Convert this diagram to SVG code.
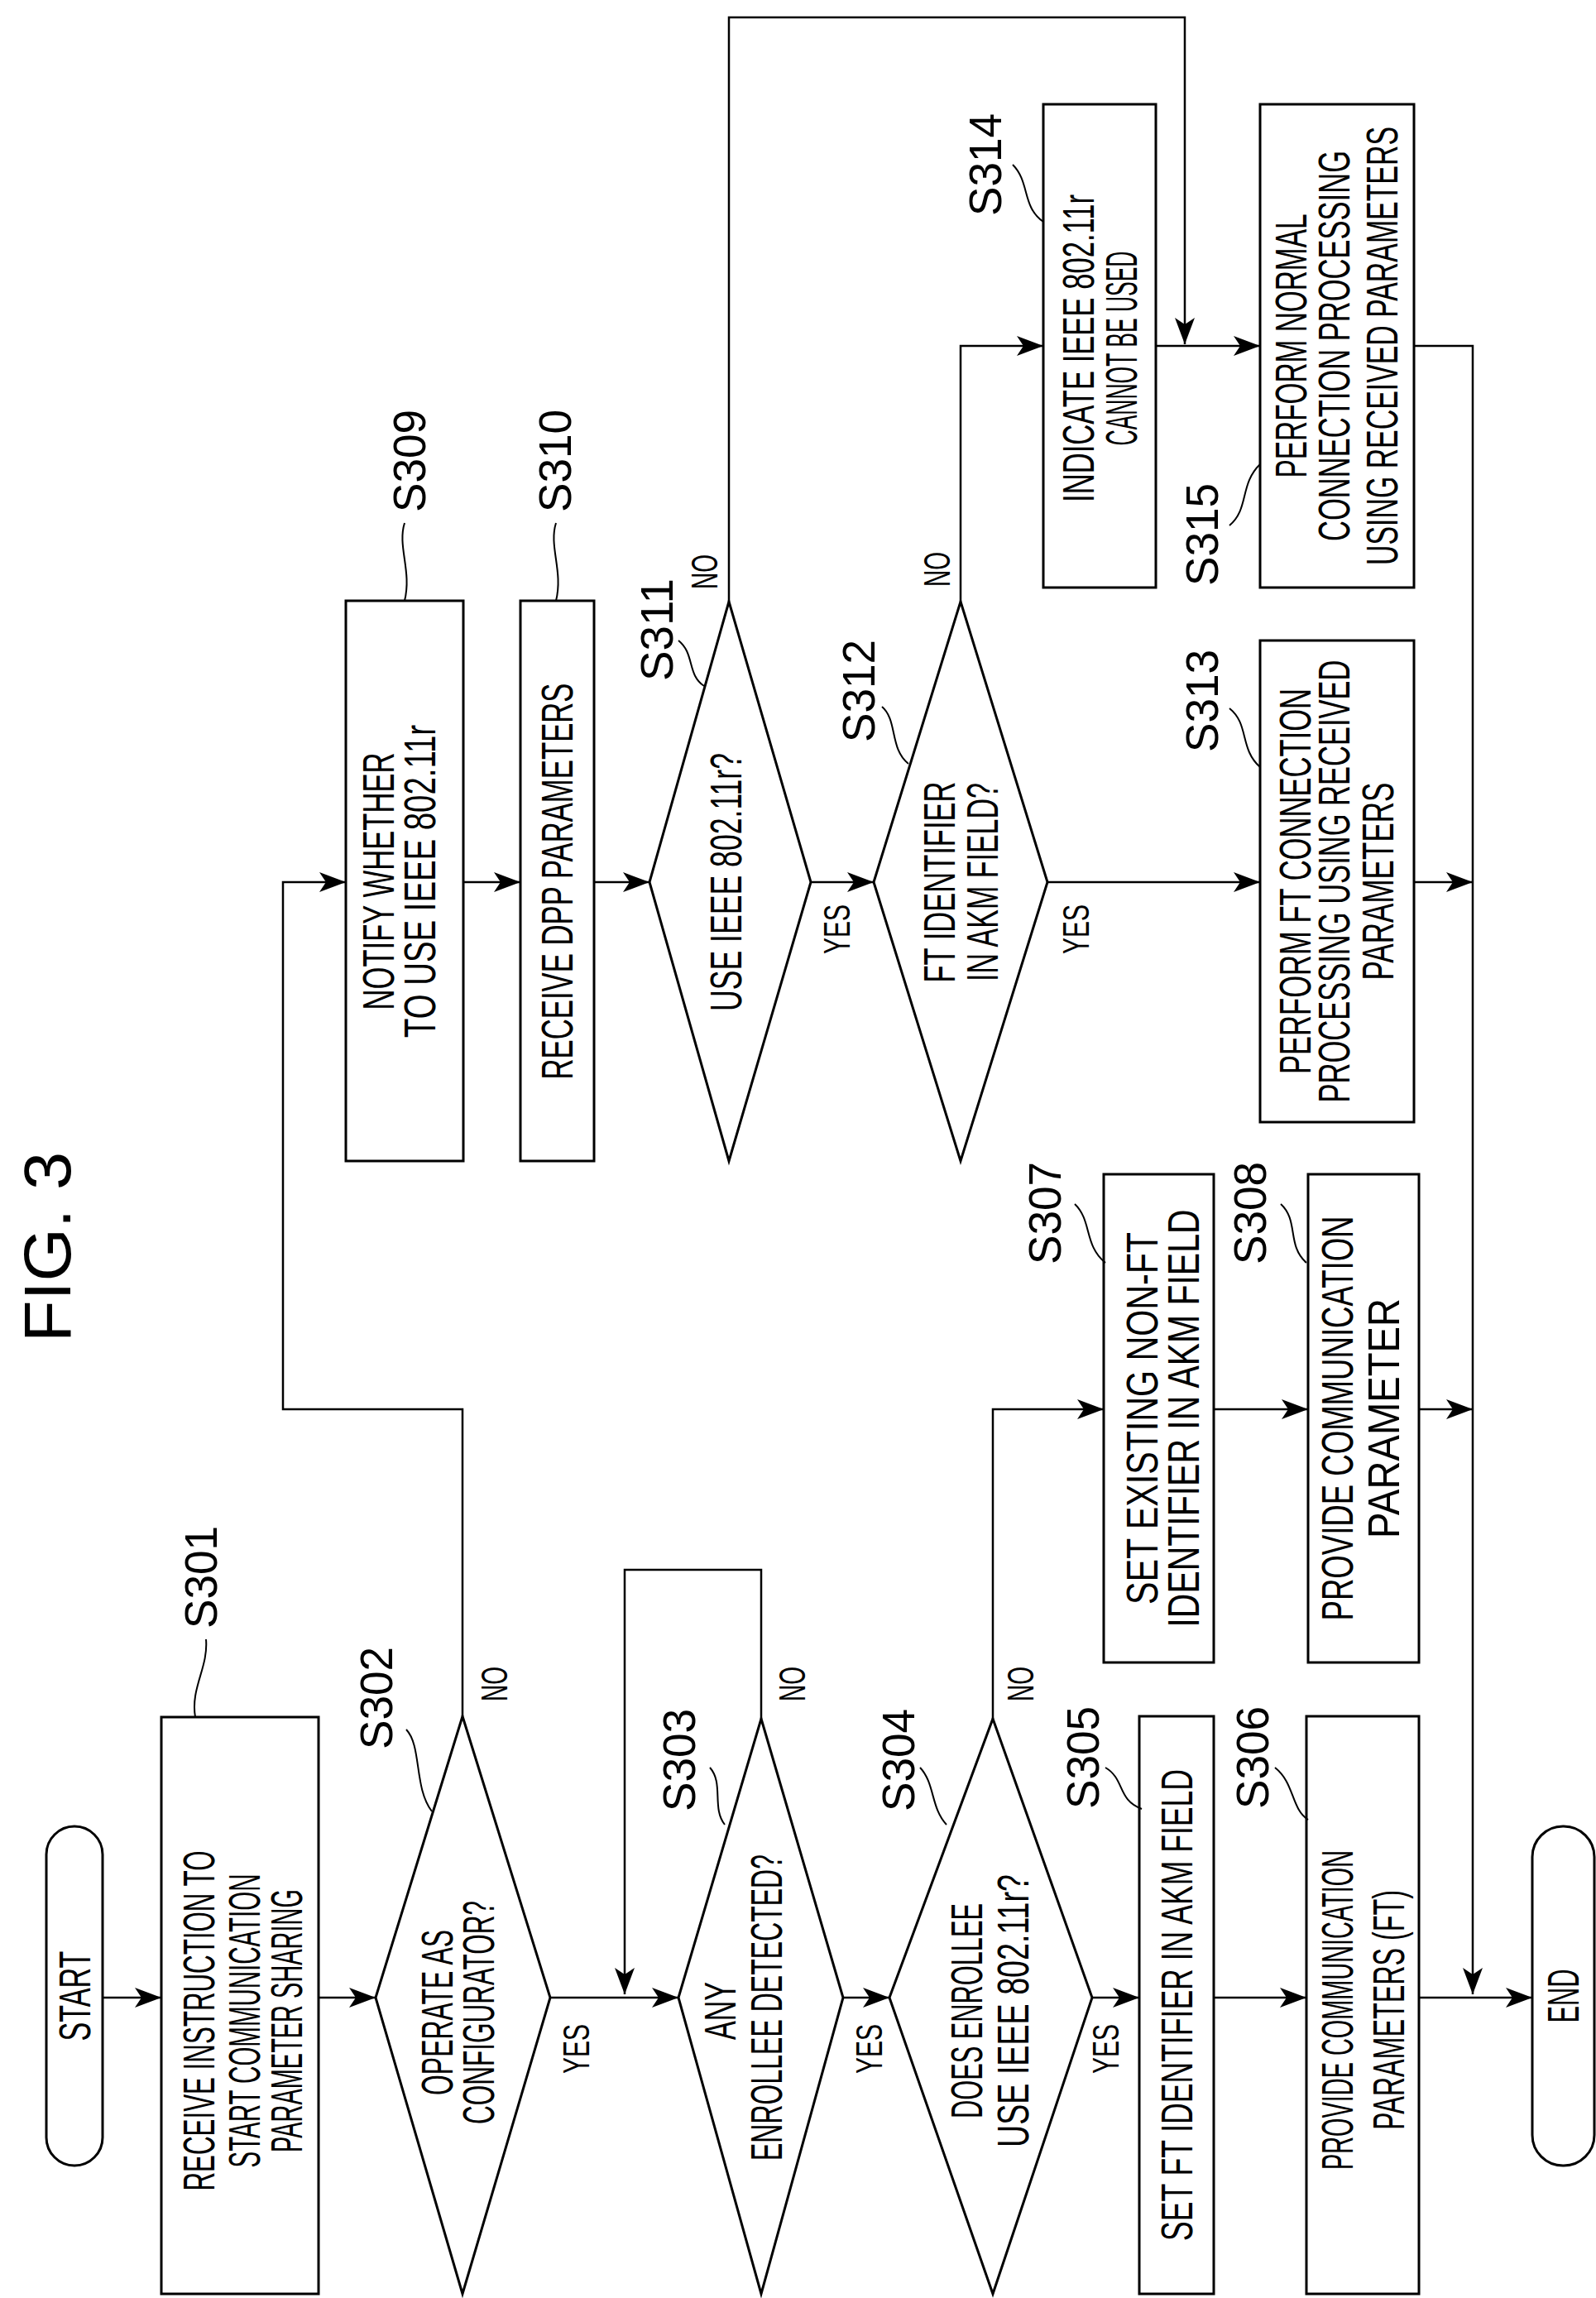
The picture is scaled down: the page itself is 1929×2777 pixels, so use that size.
<svg xmlns="http://www.w3.org/2000/svg" width="1929" height="2777" viewBox="0 0 1929 2777">
<style>
text{font-family:"Liberation Sans",Arial,sans-serif;fill:#000;text-anchor:middle}
.b{font-size:53px}
.l{font-size:56px}
.y{font-size:44px}
.s{fill:none;stroke:#000;stroke-width:3}
.c{fill:none;stroke:#000;stroke-width:2.5}
.w{fill:none;stroke:#000;stroke-width:2}
</style>
<defs>
<marker id="a" markerWidth="34" markerHeight="24" refX="32" refY="12" orient="auto" markerUnits="userSpaceOnUse">
<path d="M0,0 L32,12 L0,24 L8,12 Z" fill="#000"/>
</marker>
</defs>
<rect width="1929" height="2777" fill="#fff"/>
<text transform="translate(85,1507) rotate(-90)" style="font-size:80px" textLength="230" lengthAdjust="spacingAndGlyphs">FIG. 3</text>

<g id="start"><rect class="s" x="56" y="2207" width="68" height="410" rx="34"/>
<text class="b" transform="translate(109,2412) rotate(-90)" textLength="109" lengthAdjust="spacingAndGlyphs">START</text></g>

<g id="S301"><rect class="s" x="195" y="2075" width="190" height="697"/>
<text class="b" transform="translate(259,2442) rotate(-90)" textLength="411" lengthAdjust="spacingAndGlyphs">RECEIVE INSTRUCTION TO</text>
<text class="b" transform="translate(314,2442) rotate(-90)" textLength="355" lengthAdjust="spacingAndGlyphs">START COMMUNICATION</text>
<text class="b" transform="translate(365,2442) rotate(-90)" textLength="318" lengthAdjust="spacingAndGlyphs">PARAMETER SHARING</text>
<text class="l" transform="translate(262,1906) rotate(-90)" textLength="124" lengthAdjust="spacingAndGlyphs">S301</text>
<path class="w" d="M236,2075 C230,2040 252,2015 249,1981"/></g>

<g id="S302"><polygon class="s" points="559,2074 665,2414 559,2772 454,2414"/>
<text class="b" transform="translate(547,2432) rotate(-90)" textLength="200" lengthAdjust="spacingAndGlyphs">OPERATE AS</text>
<text class="b" transform="translate(597,2432) rotate(-90)" textLength="270" lengthAdjust="spacingAndGlyphs">CONFIGURATOR?</text>
<text class="l" transform="translate(474,2052) rotate(-90)" textLength="124" lengthAdjust="spacingAndGlyphs">S302</text>
<path class="w" d="M491,2090 C510,2110 500,2160 522,2189"/>
<text class="y" transform="translate(613,2035) rotate(-90)" textLength="42" lengthAdjust="spacingAndGlyphs">NO</text>
<text class="y" transform="translate(712,2476) rotate(-90)" textLength="60" lengthAdjust="spacingAndGlyphs">YES</text></g>

<g id="S303"><polygon class="s" points="920,2077 1019,2414 920,2772 820,2414"/>
<text class="b" transform="translate(889,2430) rotate(-90)" textLength="70" lengthAdjust="spacingAndGlyphs">ANY</text>
<text class="b" transform="translate(945,2426) rotate(-90)" textLength="370" lengthAdjust="spacingAndGlyphs">ENROLLEE DETECTED?</text>
<text class="l" transform="translate(840,2127) rotate(-90)" textLength="124" lengthAdjust="spacingAndGlyphs">S303</text>
<path class="w" d="M858,2136 C875,2155 860,2185 876,2205"/>
<text class="y" transform="translate(973,2035) rotate(-90)" textLength="42" lengthAdjust="spacingAndGlyphs">NO</text>
<text class="y" transform="translate(1066,2476) rotate(-90)" textLength="60" lengthAdjust="spacingAndGlyphs">YES</text></g>

<g id="S304"><polygon class="s" points="1200,2077 1320,2414 1200,2772 1075,2414"/>
<text class="b" transform="translate(1187,2430) rotate(-90)" textLength="260" lengthAdjust="spacingAndGlyphs">DOES ENROLLEE</text>
<text class="b" transform="translate(1243,2430) rotate(-90)" textLength="330" lengthAdjust="spacingAndGlyphs">USE IEEE 802.11r?</text>
<text class="l" transform="translate(1105,2127) rotate(-90)" textLength="124" lengthAdjust="spacingAndGlyphs">S304</text>
<path class="w" d="M1112,2136 C1130,2155 1125,2185 1144,2205"/>
<text class="y" transform="translate(1249,2035) rotate(-90)" textLength="42" lengthAdjust="spacingAndGlyphs">NO</text>
<text class="y" transform="translate(1352,2476) rotate(-90)" textLength="60" lengthAdjust="spacingAndGlyphs">YES</text></g>

<g id="S305"><rect class="s" x="1377" y="2074" width="90" height="698"/>
<text class="b" transform="translate(1441,2423) rotate(-90)" textLength="570" lengthAdjust="spacingAndGlyphs">SET FT IDENTIFIER IN AKM FIELD</text>
<text class="l" transform="translate(1328,2124) rotate(-90)" textLength="124" lengthAdjust="spacingAndGlyphs">S305</text>
<path class="w" d="M1336,2136 C1360,2150 1350,2175 1380,2186"/></g>

<g id="S306"><rect class="s" x="1579" y="2074" width="136" height="698"/>
<text class="b" transform="translate(1635,2429) rotate(-90)" textLength="386" lengthAdjust="spacingAndGlyphs">PROVIDE COMMUNICATION</text>
<text class="b" transform="translate(1697,2429) rotate(-90)" textLength="290" lengthAdjust="spacingAndGlyphs">PARAMETERS (FT)</text>
<text class="l" transform="translate(1533,2124) rotate(-90)" textLength="124" lengthAdjust="spacingAndGlyphs">S306</text>
<path class="w" d="M1541,2136 C1565,2155 1560,2185 1581,2199"/></g>

<g id="end"><rect class="s" x="1852" y="2207" width="75" height="410" rx="37"/>
<text class="b" transform="translate(1908,2412) rotate(-90)" textLength="65" lengthAdjust="spacingAndGlyphs">END</text></g>

<g id="S307"><rect class="s" x="1334" y="1419" width="133" height="590"/>
<text class="b" transform="translate(1399,1714) rotate(-90)" textLength="450" lengthAdjust="spacingAndGlyphs">SET EXISTING NON-FT</text>
<text class="b" transform="translate(1449,1714) rotate(-90)" textLength="505" lengthAdjust="spacingAndGlyphs">IDENTIFIER IN AKM FIELD</text>
<text class="l" transform="translate(1282,1466) rotate(-90)" textLength="124" lengthAdjust="spacingAndGlyphs">S307</text>
<path class="w" d="M1299,1455 C1320,1475 1310,1505 1336,1526"/></g>

<g id="S308"><rect class="s" x="1581" y="1419" width="134" height="590"/>
<text class="b" transform="translate(1635,1714) rotate(-90)" textLength="489" lengthAdjust="spacingAndGlyphs">PROVIDE COMMUNICATION</text>
<text class="b" transform="translate(1691,1714) rotate(-90)" textLength="290" lengthAdjust="spacingAndGlyphs">PARAMETER</text>
<text class="l" transform="translate(1530,1466) rotate(-90)" textLength="124" lengthAdjust="spacingAndGlyphs">S308</text>
<path class="w" d="M1548,1455 C1570,1475 1555,1505 1579,1526"/></g>

<g id="S309"><rect class="s" x="418" y="726" width="142" height="677"/>
<text class="b" transform="translate(476,1065) rotate(-90)" textLength="311" lengthAdjust="spacingAndGlyphs">NOTIFY WHETHER</text>
<text class="b" transform="translate(526,1065) rotate(-90)" textLength="378" lengthAdjust="spacingAndGlyphs">TO USE IEEE 802.11r</text>
<text class="l" transform="translate(514,557) rotate(-90)" textLength="124" lengthAdjust="spacingAndGlyphs">S309</text>
<path class="w" d="M489,632 C480,660 498,690 489,726"/></g>

<g id="S310"><rect class="s" x="629" y="726" width="89" height="677"/>
<text class="b" transform="translate(692,1065) rotate(-90)" textLength="479" lengthAdjust="spacingAndGlyphs">RECEIVE DPP PARAMETERS</text>
<text class="l" transform="translate(690,557) rotate(-90)" textLength="124" lengthAdjust="spacingAndGlyphs">S310</text>
<path class="w" d="M672,632 C663,660 681,690 672,726"/></g>

<g id="S311"><polygon class="s" points="881,727 980,1066 881,1403 785,1066"/>
<text class="b" transform="translate(896,1066) rotate(-90)" textLength="312" lengthAdjust="spacingAndGlyphs">USE IEEE 802.11r?</text>
<text class="l" transform="translate(813,761) rotate(-90)" textLength="124" lengthAdjust="spacingAndGlyphs">S311</text>
<path class="w" d="M820,774 C840,790 830,815 851,829"/>
<text class="y" transform="translate(867,691) rotate(-90)" textLength="42" lengthAdjust="spacingAndGlyphs">NO</text>
<text class="y" transform="translate(1027,1123) rotate(-90)" textLength="60" lengthAdjust="spacingAndGlyphs">YES</text></g>

<g id="S312"><polygon class="s" points="1161,727 1266,1066 1161,1403 1056,1066"/>
<text class="b" transform="translate(1154,1066) rotate(-90)" textLength="243" lengthAdjust="spacingAndGlyphs">FT IDENTIFIER</text>
<text class="b" transform="translate(1206,1066) rotate(-90)" textLength="240" lengthAdjust="spacingAndGlyphs">IN AKM FIELD?</text>
<text class="l" transform="translate(1057,835) rotate(-90)" textLength="124" lengthAdjust="spacingAndGlyphs">S312</text>
<path class="w" d="M1066,854 C1085,870 1075,905 1098,923"/>
<text class="y" transform="translate(1148,688) rotate(-90)" textLength="42" lengthAdjust="spacingAndGlyphs">NO</text>
<text class="y" transform="translate(1316,1123) rotate(-90)" textLength="60" lengthAdjust="spacingAndGlyphs">YES</text></g>

<g id="S313"><rect class="s" x="1523" y="774" width="186" height="582"/>
<text class="b" transform="translate(1584,1065) rotate(-90)" textLength="466" lengthAdjust="spacingAndGlyphs">PERFORM FT CONNECTION</text>
<text class="b" transform="translate(1631,1065) rotate(-90)" textLength="535" lengthAdjust="spacingAndGlyphs">PROCESSING USING RECEIVED</text>
<text class="b" transform="translate(1684,1065) rotate(-90)" textLength="239" lengthAdjust="spacingAndGlyphs">PARAMETERS</text>
<text class="l" transform="translate(1472,847) rotate(-90)" textLength="124" lengthAdjust="spacingAndGlyphs">S313</text>
<path class="w" d="M1486,856 C1510,875 1498,905 1523,927"/></g>

<g id="S314"><rect class="s" x="1261" y="126" width="136" height="584"/>
<text class="b" transform="translate(1322,421) rotate(-90)" textLength="372" lengthAdjust="spacingAndGlyphs">INDICATE IEEE 802.11r</text>
<text class="b" transform="translate(1374,421) rotate(-90)" textLength="235" lengthAdjust="spacingAndGlyphs">CANNOT BE USED</text>
<text class="l" transform="translate(1210,199) rotate(-90)" textLength="124" lengthAdjust="spacingAndGlyphs">S314</text>
<path class="w" d="M1224,199 C1245,220 1235,250 1261,268"/></g>

<g id="S315"><rect class="s" x="1523" y="126" width="186" height="584"/>
<text class="b" transform="translate(1579,418) rotate(-90)" textLength="319" lengthAdjust="spacingAndGlyphs">PERFORM NORMAL</text>
<text class="b" transform="translate(1631,418) rotate(-90)" textLength="472" lengthAdjust="spacingAndGlyphs">CONNECTION PROCESSING</text>
<text class="b" transform="translate(1689,418) rotate(-90)" textLength="530" lengthAdjust="spacingAndGlyphs">USING RECEIVED PARAMETERS</text>
<text class="l" transform="translate(1472,646) rotate(-90)" textLength="124" lengthAdjust="spacingAndGlyphs">S315</text>
<path class="w" d="M1486,635 C1510,615 1498,585 1523,561"/></g>

<g id="connectors">
<path class="c" d="M124,2414 H195" marker-end="url(#a)"/>
<path class="c" d="M385,2414 H454" marker-end="url(#a)"/>
<path class="c" d="M665,2414 H820" marker-end="url(#a)"/>
<path class="c" d="M920,2077 V1897 H755 V2410" marker-end="url(#a)"/>
<path class="c" d="M1019,2414 H1075" marker-end="url(#a)"/>
<path class="c" d="M1320,2414 H1377" marker-end="url(#a)"/>
<path class="c" d="M1467,2414 H1579" marker-end="url(#a)"/>
<path class="c" d="M1715,2414 H1852" marker-end="url(#a)"/>
<path class="c" d="M1709,418 H1780 V2410" marker-end="url(#a)"/>
<path class="c" d="M559,2074 V1703 H342 V1066 H418" marker-end="url(#a)"/>
<path class="c" d="M1200,2077 V1703 H1334" marker-end="url(#a)"/>
<path class="c" d="M1467,1703 H1581" marker-end="url(#a)"/>
<path class="c" d="M1715,1703 H1780" marker-end="url(#a)"/>
<path class="c" d="M560,1066 H629" marker-end="url(#a)"/>
<path class="c" d="M718,1066 H785" marker-end="url(#a)"/>
<path class="c" d="M980,1066 H1056" marker-end="url(#a)"/>
<path class="c" d="M1266,1066 H1523" marker-end="url(#a)"/>
<path class="c" d="M1709,1066 H1780" marker-end="url(#a)"/>
<path class="c" d="M881,727 V21 H1432 V416" marker-end="url(#a)"/>
<path class="c" d="M1161,727 V418 H1261" marker-end="url(#a)"/>
<path class="c" d="M1397,418 H1523" marker-end="url(#a)"/>
</g>
</svg>
